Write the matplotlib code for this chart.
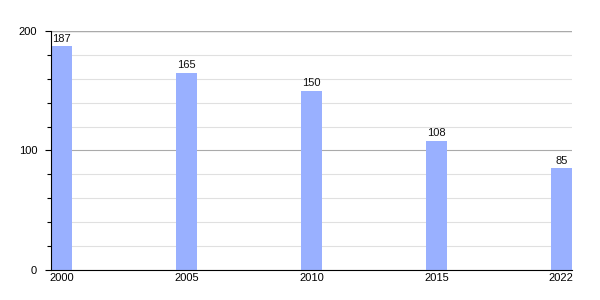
import matplotlib.pyplot as plt
from matplotlib.ticker import MultipleLocator

plt.rcParams["font.family"] = ["Liberation Sans", "DejaVu Sans"]

# data
years = ["2000", "2005", "2010", "2015", "2022"]
values = [187, 165, 150, 108, 85]

bar_color = "#99b0ff"

fig = plt.figure(figsize=(6, 3), dpi=100)
ax = fig.add_axes([0.085, 0.1, 0.868, 0.797])

pos = list(range(len(years)))
width = 0.168
ax.bar(pos, values, width=width, color=bar_color, zorder=3)
for x, v in zip(pos, values):
    ax.text(x, v + 2, str(v), ha="center", va="bottom", fontsize=8, color="#111111", zorder=4)

ax.set_xlim(-width / 2, len(years) - 1 + width / 2)
ax.set_ylim(0, 200)
ax.set_xticks(pos)
ax.set_xticklabels(years, fontsize=8)
ax.yaxis.set_major_locator(MultipleLocator(100))
ax.yaxis.set_minor_locator(MultipleLocator(20))
ax.tick_params(axis="y", which="major", labelsize=8, length=4, width=0.8, pad=6)
ax.tick_params(axis="y", which="minor", length=3, width=0.8)
ax.tick_params(axis="x", length=0, pad=2)

# gridlines
ax.grid(axis="y", which="minor", color="#e0e0e0", linewidth=0.8, zorder=0)
ax.grid(axis="y", which="major", color="#aaaaaa", linewidth=0.8, zorder=1)
ax.axhline(200, color="#aaaaaa", linewidth=1, zorder=1)

for s in ["top", "right"]:
    ax.spines[s].set_visible(False)
ax.spines["left"].set_color("black")
ax.spines["bottom"].set_color("black")
ax.spines["left"].set_zorder(5)
ax.spines["bottom"].set_zorder(5)

fig.savefig("out.png", dpi=100)
